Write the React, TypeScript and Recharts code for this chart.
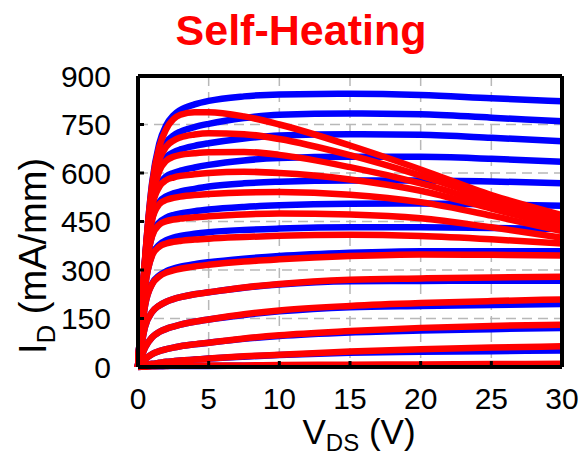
import { LineChart, Line, XAxis, YAxis, CartesianGrid } from 'recharts';

// drain voltage samples (V)
const vds = [0, 0.5, 1, 1.5, 2, 2.5, 3, 4, 5, 7.5, 10, 15, 20, 25, 30];

// isothermal curves (blue), top gate first, mA/mm
const iso1 = [0, 335, 570, 690, 748, 778, 795, 812, 823, 837, 843, 845, 841, 831, 822];
const iso2 = [0, 330, 550, 648, 695, 716, 728, 742, 752, 770, 780, 784, 782, 771, 760];
const iso3 = [0, 325, 528, 615, 650, 664, 673, 684, 692, 707, 716, 720, 718, 709, 698];
const iso4 = [0, 315, 500, 565, 590, 600, 607, 617, 625, 639, 646, 650, 650, 644, 635];
const iso5 = [0, 300, 458, 510, 528, 537, 543, 551, 558, 568, 573, 577, 577, 574, 568];
const iso6 = [0, 280, 408, 447, 462, 470, 475, 482, 487, 495, 500, 505, 506, 503, 499];
const iso7 = [0, 248, 348, 378, 392, 400, 405, 412, 417, 424, 428, 432, 432, 430, 427];
const iso8 = [0, 190, 258, 283, 296, 304, 310, 318, 324, 335, 343, 353, 358, 358, 358];
const iso9 = [0, 125, 170, 190, 202, 210, 216, 225, 231, 245, 255, 265, 266, 267, 267];
const iso10 = [0, 60, 92, 108, 118, 125, 131, 140, 147, 161, 172, 185, 189, 192, 195];
const iso11 = [0, 24, 40, 49, 55, 60, 64, 70, 75, 87, 96, 107, 113, 117, 121];
const iso12 = [0, 6, 10, 13, 16, 18, 20, 23, 26, 32, 37, 44, 47, 49, 51];
const iso13 = [0, 1, 2, 2, 3, 3, 3, 3, 3, 4, 4, 5, 5, 5, 5];

// self-heating curves (red)
const sh1 = [0, 335, 565, 680, 736, 766, 780, 788, 788, 775, 750, 685, 611, 532, 470];
const sh2 = [0, 330, 548, 640, 682, 700, 710, 719, 723, 720, 705, 655, 592, 520, 458];
const sh3 = [0, 325, 523, 605, 638, 650, 656, 661, 664, 665, 656, 618, 568, 505, 446];
const sh4 = [0, 315, 495, 557, 578, 586, 591, 596, 600, 604, 600, 580, 545, 490, 434];
const sh5 = [0, 300, 455, 503, 517, 523, 527, 532, 535, 540, 541, 533, 510, 468, 420];
const sh6 = [0, 280, 405, 440, 451, 456, 459, 463, 466, 472, 475, 472, 460, 432, 400];
const sh7 = [0, 248, 345, 372, 382, 387, 390, 394, 397, 402, 406, 409, 405, 395, 382];
const sh8 = [0, 190, 256, 280, 292, 299, 304, 311, 316, 326, 333, 343, 348, 347, 345];
const sh9 = [0, 125, 170, 190, 202, 210, 216, 225, 231, 246, 257, 270, 274, 277, 279];
const sh10 = [0, 60, 92, 108, 118, 125, 131, 140, 147, 163, 175, 189, 198, 204, 209];
const sh11 = [0, 24, 40, 49, 55, 60, 64, 70, 75, 88, 98, 111, 121, 127, 131];
const sh12 = [0, 6, 10, 13, 16, 18, 20, 23, 26, 33, 38, 48, 55, 60, 64];
const sh13 = [0, 1, 2, 3, 3, 4, 4, 4, 5, 5, 6, 7, 8, 9, 10];

const isoCurves = [iso1, iso2, iso3, iso4, iso5, iso6, iso7, iso8, iso9, iso10, iso11, iso12, iso13];
const shCurves = [sh1, sh2, sh3, sh4, sh5, sh6, sh7, sh8, sh9, sh10, sh11, sh12, sh13];

const xTicks = [0, 5, 10, 15, 20, 25, 30];
const yTicks = [0, 150, 300, 450, 600, 750, 900];

const data = vds.map((v, i) => {
  const row: Record<string, number> = { vds: v };
  isoCurves.forEach((c, k) => { row[`iso${k}`] = c[i]; });
  shCurves.forEach((c, k) => { row[`sh${k}`] = c[i]; });
  return row;
});

const font = "'Liberation Sans', Arial, Helvetica, sans-serif";
const frame = { stroke: '#000', strokeWidth: 4 };
const tickStroke = { stroke: '#000', strokeWidth: 3 };
const tickText = { fill: '#000', fontSize: 30, fontFamily: font };

export default function App() {
  return (
    <div style={{ position: 'absolute', left: 0, top: 0, width: 584, height: 459, background: '#fff' }}>
      <LineChart width={584} height={459} data={data} margin={{ top: 75, right: 21, bottom: 52, left: 0 }}>
        <CartesianGrid strokeDasharray="10 6" stroke="#b8b8b8" strokeWidth={1.5} />
        <XAxis dataKey="vds" type="number" domain={[0, 30]} ticks={xTicks} height={40}
          axisLine={frame} tickLine={tickStroke} tickSize={-6} tickMargin={27} tick={tickText} />
        <XAxis xAxisId="top" orientation="top" dataKey="vds" type="number" domain={[0, 30]} ticks={xTicks} height={1}
          axisLine={frame} tickLine={tickStroke} tickSize={-6} tick={false} />
        <YAxis type="number" domain={[0, 900]} ticks={yTicks} width={138}
          axisLine={frame} tickLine={tickStroke} tickSize={-6} tickMargin={33} tick={tickText} />
        <YAxis yAxisId="right" orientation="right" type="number" domain={[0, 900]} ticks={yTicks} width={1}
          axisLine={frame} tickLine={tickStroke} tickSize={-6} tick={false} />
        {isoCurves.map((_, k) => (
          <Line key={`iso${k}`} dataKey={`iso${k}`} type="monotone" stroke="#0000ff" strokeWidth={6.5}
            dot={false} isAnimationActive={false} />
        ))}
        {shCurves.map((_, k) => (
          <Line key={`sh${k}`} dataKey={`sh${k}`} type="monotone" stroke="#ff0000" strokeWidth={6.5}
            dot={false} isAnimationActive={false} />
        ))}
      </LineChart>
      <svg width={584} height={459} style={{ position: 'absolute', left: 0, top: 0, pointerEvents: 'none' }}>
        <text x={301} y={45} textAnchor="middle" fill="#ff0000" fontSize={43} fontWeight="bold" fontFamily={font}>
          Self-Heating
        </text>
        <text x={359} y={444} textAnchor="middle" fontSize={35} fontFamily={font} fill="#000">
          V<tspan fontSize={24} dy={7}>DS</tspan><tspan dy={-7}> (V)</tspan>
        </text>
        <text transform="translate(46,256) rotate(-90)" textAnchor="middle" fontSize={38} fontFamily={font} fill="#000">
          I<tspan fontSize={26} dy={9}>D</tspan><tspan dy={-9}> (mA/mm)</tspan>
        </text>
      </svg>
    </div>
  );
}
